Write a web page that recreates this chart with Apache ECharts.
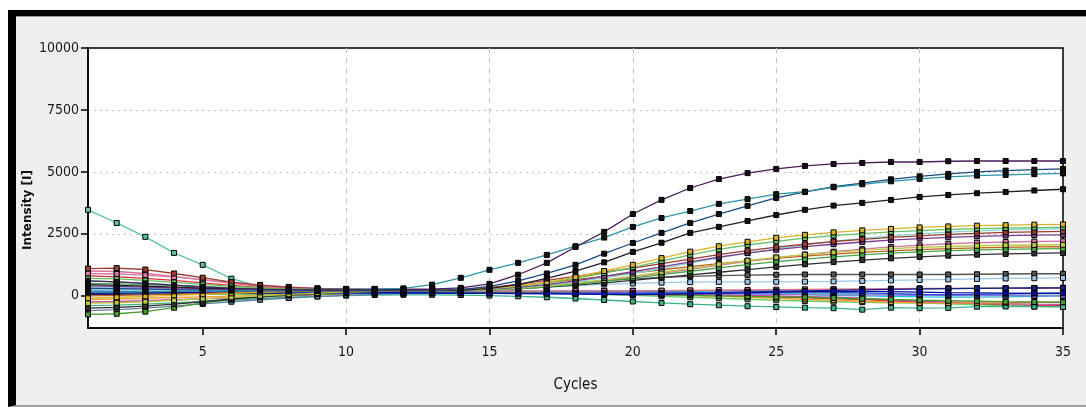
<!DOCTYPE html>
<html><head><meta charset="utf-8">
<script src="https://cdn.jsdelivr.net/npm/echarts@6/dist/echarts.min.js"></script>
<style>
html,body{margin:0;padding:0;background:#fff;}
#frame{position:absolute;left:8px;top:10px;width:1078px;height:397px;background:#efefef;border-top:6px solid #000;border-left:8px solid #000;border-bottom:2px solid #a0a0a0;box-sizing:border-box;}
#frame:after{content:"";position:absolute;left:0;right:0;top:0;height:1px;background:#9a9a9a;}
#chart{position:absolute;left:0;top:0;width:1086px;height:412px;}
</style></head><body>
<div id="frame"></div><div id="chart"></div>
<script>
const cycles = [1,2,3,4,5,6,7,8,9,10,11,12,13,14,15,16,17,18,19,20,21,22,23,24,25,26,27,28,29,30,31,32,33,34,35];
const yTicks = [0,2500,5000,7500,10000];
const xTicks = [5,10,15,20,25,30,35];

// high curves
const purpleTop = [600,560,500,430,360,300,270,250,240,240, 240,250,270,320,480,850,1330,1970,2580,3300, 3870,4350,4710,4950,5120,5240,5320,5360,5400,5400, 5430,5440,5440,5440,5440];
const tealRise  = [150,160,170,180,200,220,240,250,260,270, 280,300,450,725,1050,1330,1650,2000,2350,2780, 3140,3420,3710,3900,4100,4200,4380,4500,4620,4720, 4800,4850,4880,4910,4940];
const navyRise  = [300,290,270,250,230,210,200,200,200,200, 200,200,210,250,380,600,900,1250,1700,2130, 2540,2940,3300,3630,3950,4190,4400,4550,4700,4820, 4920,5000,5050,5090,5120];
const blackRise = [450,420,390,350,310,280,260,250,240,240, 240,240,230,220,300,450,700,1000,1350,1770, 2140,2540,2780,3020,3260,3470,3640,3750,3870,3990, 4070,4140,4190,4250,4300];

// middle band
const midYellow = [-100,-60,-20,20,60,100,140,170,190,200, 210,220,230,250,300,400,550,750,1000,1250, 1520,1780,2000,2180,2340,2460,2560,2640,2700,2760, 2800,2830,2850,2870,2880];
const midGreen  = [700,680,620,540,460,380,320,280,250,240, 235,235,238,240,290,380,520,700,920,1150, 1400,1650,1870,2050,2200,2330,2430,2510,2580,2630, 2680,2710,2730,2750,2760];
const midBrown  = [1100,1120,1060,900,730,550,420,340,300,280, 270,265,262,260,330,470,620,780,950,1120, 1300,1480,1660,1820,1960,2080,2190,2280,2360,2420, 2480,2520,2560,2580,2600];
const midPurple = [400,380,350,320,290,260,240,230,225,225, 225,228,230,230,270,340,450,600,780,970, 1170,1370,1560,1720,1860,1980,2080,2170,2250,2310, 2360,2400,2430,2450,2460];
const midCyan   = [250,240,230,220,210,210,210,210,215,215, 215,218,220,220,260,330,430,560,720,900, 1100,1320,1530,1730,1900,2060,2200,2320,2420,2500, 2570,2620,2660,2690,2700];
const midLime   = [-300,-280,-240,-180,-120,-60,0,60,110,150, 180,200,210,220,250,310,400,510,640,790, 950,1110,1270,1420,1550,1660,1750,1830,1900,1950, 1990,2020,2040,2050,2060];
const midGreen2 = [500,480,450,410,370,330,290,260,240,220, 210,205,200,200,230,280,360,460,580,710, 850,990,1130,1260,1380,1480,1570,1650,1720,1770, 1820,1850,1870,1890,1900];
const midDark   = [-500,-470,-420,-340,-240,-130,-40,40,100,150, 180,200,205,210,240,290,350,430,520,620, 730,840,950,1060,1170,1270,1360,1440,1510,1570, 1620,1660,1690,1710,1730];
const midPink   = [900,880,830,750,650,540,440,360,300,270, 250,240,235,230,260,320,400,500,620,760, 910,1070,1230,1390,1530,1660,1780,1880,1970,2040, 2100,2140,2170,2190,2200];
const midOrange = [0,20,40,70,100,130,160,190,210,225, 235,240,245,250,320,420,530,650,780,920, 1050,1180,1300,1410,1510,1600,1680,1750,1810,1860, 1900,1930,1950,1970,1980];

// low cluster
const tealEarly = [3470,2940,2380,1730,1250,690,380,300,270,260, 250,240,230,220,210,200,190,180,170,160, 150,140,130,120,110,100,90,80,70,60, 50,40,40,30,30];
const lowGray   = [150,160,170,180,190,195,200,205,210,210, 210,212,215,220,260,330,420,520,610,680, 740,780,810,830,850,860,860,860,860,860, 860,870,880,890,890];
const lowSky    = [350,340,320,300,280,260,250,245,240,235, 232,230,230,232,240,290,350,410,460,500, 530,550,560,565,565,570,580,600,620,640, 660,680,700,710,720];
const lowBlue   = [200,190,180,170,160,150,140,130,120,115, 110,105,100,100,100,100,100,95,95,100, 110,120,130,140,150,150,140,120,90,60, 50,60,80,100,120];
const lowCyan   = [600,560,500,430,360,300,250,220,200,190, 180,175,170,170,175,180,190,200,200,200, 190,170,140,110,80,50,20,0,-20,-40, -50,-50,-40,-20,0];
const lowNavy   = [50,60,70,80,90,95,100,100,100,100, 100,100,100,100,100,100,100,100,100,100, 110,120,140,160,180,200,220,240,260,280, 290,300,310,315,320];
const lowRed    = [800,760,700,620,520,420,340,280,240,220, 200,190,180,170,160,150,130,110,90,60, 40,20,0,-20,-50,-80,-110,-150,-200,-260, -300,-340,-370,-390,-400];
const lowMagenta= [-250,-230,-200,-160,-120,-80,-40,0,40,80, 110,130,150,160,165,160,150,140,120,100, 80,60,40,20,0,-30,-60,-100,-160,-220, -260,-300,-320,-340,-350];
const lowLime   = [100,90,80,70,60,60,60,70,80,90, 100,110,115,120,115,110,100,80,50,20, -20,-60,-100,-140,-180,-210,-240,-260,-280,-300, -330,-370,-400,-430,-450];
const lowSea    = [-400,-380,-340,-290,-230,-170,-110,-60,-20,10, 30,40,40,30,10,-20,-60,-110,-170,-230, -290,-340,-380,-420,-450,-480,-500,-560,-480,-500, -490,-440,-430,-440,-450];
const lowAmber  = [-150,-130,-100,-70,-40,-10,20,50,80,100, 120,130,140,150,155,160,160,150,130,100, 60,20,-20,-60,-100,-140,-180,-220,-260,-290, -300,-290,-280,-260,-250];
const lowSlate  = [-600,-560,-500,-420,-330,-240,-160,-90,-30,20, 60,90,110,120,130,140,150,160,170,180, 190,200,210,220,230,240,250,260,270,280, 290,300,310,315,320];
const lowViolet = [300,290,280,270,260,250,240,230,220,210, 200,190,180,170,160,150,140,130,120,110, 100,90,80,70,60,50,40,40,30,20, 20,10,10,0,0];
const lowOlive  = [-750,-725,-640,-480,-290,-150,-50,20,70,100, 120,130,140,140,140,130,120,100,80,60, 40,20,0,-20,-40,-60,-90,-120,-150,-180, -200,-220,-240,-250,-260];
const lowRose   = [1000,980,900,780,640,500,380,290,240,210, 200,195,195,195,200,200,200,200,200,200, 210,220,230,240,250,260,270,280,290,300, 300,300,300,300,300];
const lowDeep   = [100,110,120,130,140,150,160,160,160,150, 140,130,120,110,100,90,80,70,60,50, 60,80,100,120,150,170,180,180,170,150, 130,120,110,100,100];

const seriesDefs = [
  [tealEarly,'#5cc4a4','#ffffff'],
  [lowGray,'#555555','#ffffff'],
  [lowSky,'#9cc8e8','#ffffff'],
  [lowCyan,'#1ec0cc','#ffffff'],
  [lowRed,'#e0303a','#ffffff'],
  [lowMagenta,'#c040b0','#ffffff'],
  [lowLime,'#66d066','#ffffff'],
  [lowSea,'#3cb48c','#ffffff'],
  [lowAmber,'#f0a030','#ffffff'],
  [lowSlate,'#6080a0','#ffffff'],
  [lowViolet,'#9070e0','#ffffff'],
  [lowOlive,'#4a9a30','#ffffff'],
  [lowRose,'#e07090','#ffffff'],
  [lowNavy,'#16207e','#ffffff'],
  [lowBlue,'#2050e0','#ffffff'],
  [lowDeep,'#0a0aa0','#ffffff'],
  [midOrange,'#c0601c','#ffffff'],
  [midPink,'#d87aa8','#ffffff'],
  [midDark,'#303030','#ffffff'],
  [midGreen2,'#44a844','#ffffff'],
  [midLime,'#b8c840','#ffffff'],
  [midCyan,'#86d4d0','#ffffff'],
  [midPurple,'#7a3c8c','#ffffff'],
  [midBrown,'#9c3c34','#ffffff'],
  [midGreen,'#64c064','#ffffff'],
  [midYellow,'#d8b428','#ffffff'],
  [blackRise,'#2a1a30','#111111'],
  [navyRise,'#1c4a84','#111111'],
  [tealRise,'#2a96a4','#111111'],
  [purpleTop,'#4c1c5c','#111111']
];

const labelFont = {fontFamily:'"Liberation Sans Narrow","DejaVu Sans Condensed",sans-serif', fontSize:14, color:'#1a1a1a'};

const chart = echarts.init(document.getElementById('chart'), null, {renderer:'canvas'});
chart.setOption({
  animation:false,
  backgroundColor:'transparent',
  grid:{left:88, top:48, width:975, height:280, show:true, backgroundColor:'#ffffff', borderColor:'#000', borderWidth:1.5, z:0},
  xAxis:{
    type:'value', min:1, max:35,
    name:'Cycles', nameLocation:'middle', nameGap:50, nameMoveOverlap:false,
    nameTextStyle:{fontFamily:'"Liberation Sans Narrow","DejaVu Sans Condensed",sans-serif', fontSize:15, color:'#111'},
    axisLine:{show:true, onZero:false, lineStyle:{color:'#000', width:1.5}},
    axisTick:{show:true, length:7, customValues:xTicks, lineStyle:{color:'#000', width:1.5}},
    axisLabel:{customValues:xTicks, margin:17, formatter:v=>String(v), ...labelFont},
    splitLine:{show:true, showMinLine:false, showMaxLine:false, lineStyle:{color:'#c4c4c4', type:[5,5], width:1}}
  },
  yAxis:{
    type:'value', min:-1300, max:10000,
    name:'Intensity [I]', nameLocation:'middle', nameGap:54, nameMoveOverlap:false,
    nameTextStyle:{fontFamily:'"DejaVu Sans",sans-serif', fontWeight:'bold', fontSize:12, color:'#111', padding:[0,44,0,0]},
    axisLine:{show:true, onZero:false, lineStyle:{color:'#000', width:1.5}},
    axisTick:{show:true, length:7, customValues:yTicks, lineStyle:{color:'#000', width:1.5}},
    axisLabel:{customValues:yTicks, margin:9, formatter:v=>String(v), ...labelFont},
    splitLine:{show:true, showMinLine:false, showMaxLine:false, lineStyle:{color:'#c4c4c4', type:[2,4], width:1}}
  },
  series: seriesDefs.map(([vals,color,fill],k)=>({
    type:'line',
    data: cycles.map((c,i)=>[c, vals[i]]),
    symbol:'rect', symbolSize:5, showSymbol:true,
    lineStyle:{color:color, width:1.3},
    itemStyle:{color:fill==='#ffffff'?color:fill, borderColor:'#000', borderWidth:1},
    z:2+k*0.01,
    emphasis:{disabled:true},
    silent:true
  }))
});
</script>
</body></html>
